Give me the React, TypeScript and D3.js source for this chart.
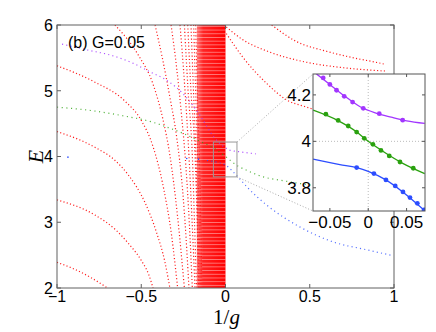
import * as d3 from 'd3';

type Pt = [number, number];

const xTicks = [-1, -0.5, 0, 0.5, 1];
const yTicks = [2, 3, 4, 5, 6];
const insetXTicks = [-0.05, 0, 0.05];
const insetYTicks = [3.8, 4, 4.2];

// red levels that come in from the left edge
const redFromLeft: Pt[][] = [
  [[-1, 2.39], [-0.9, 2.29], [-0.8, 2.16], [-0.7, 2.0]],
  [[-1, 3.34], [-0.775, 3.11], [-0.65, 2.88], [-0.577, 2.68], [-0.5, 2.42], [-0.455, 2.2], [-0.43, 2.0]],
  [[-1, 4.38], [-0.775, 4.14], [-0.66, 3.95], [-0.577, 3.72], [-0.478, 3.3], [-0.41, 2.85], [-0.36, 2.4], [-0.33, 2.0]],
  [[-1, 5.38], [-0.775, 5.13], [-0.6, 4.85], [-0.5, 4.55], [-0.43, 4.15], [-0.37, 3.55], [-0.32, 2.8], [-0.284, 2.0]],
];

// red levels that drop in from the top
const redFromTop: Pt[][] = [
  [[-0.656, 6], [-0.517, 5.54], [-0.43, 5.1], [-0.37, 4.55], [-0.33, 4.02], [-0.285, 3.1], [-0.244, 2.0]],
  [[-0.418, 6], [-0.375, 5.5], [-0.33, 4.9], [-0.29, 4.3], [-0.255, 3.5], [-0.235, 2.8], [-0.217, 2.0]],
  [[-0.323, 6], [-0.29, 5.35], [-0.26, 4.6], [-0.235, 3.85], [-0.215, 3.0], [-0.197, 2.0]],
  [[-0.27, 6], [-0.243, 5.1], [-0.217, 4.02], [-0.198, 3.0], [-0.181, 2.0]],
  [[-0.244, 6], [-0.222, 5.0], [-0.197, 4.02], [-0.184, 3.0], [-0.172, 2.0]],
  [[-0.224, 6], [-0.205, 5.0], [-0.181, 4.02], [-0.168, 3.0], [-0.16, 2.0]],
  [[-0.205, 6], [-0.19, 5.0], [-0.175, 4.0], [-0.155, 2.0]],
  [[-0.189, 6], [-0.175, 4.8], [-0.165, 4.0], [-0.148, 2.0]],
  [[-0.177, 6], [-0.165, 4.8], [-0.155, 4.0], [-0.14, 2.0]],
];

// red levels on the g > 0 side
const redRight: Pt[][] = [
  [[0.005, 5.97], [0.1, 5.78], [0.25, 5.6], [0.45, 5.45], [0.7, 5.35], [0.95, 5.3]],
  [[0.274, 6], [0.42, 5.75], [0.6, 5.6], [0.76, 5.5], [0.88, 5.44], [0.95, 5.4]],
  [[0.005, 5.87], [0.1, 5.52], [0.245, 5.11], [0.363, 4.86], [0.47, 4.76], [0.7, 4.6], [1, 4.5]],
];

// dense block of levels just left of 1/g = 0
const denseBand = [-0.17, 0];

const purpleMain: Pt[] = [
  [-0.97, 5.71], [-0.82, 5.62], [-0.68, 5.54], [-0.55, 5.42], [-0.45, 5.29], [-0.35, 5.16],
  [-0.25, 4.95], [-0.15, 4.62], [-0.07, 4.3], [0, 4.13], [0.02, 4.1], [0.09, 4.07], [0.18, 4.04],
];
const greenMain: Pt[] = [
  [-1, 4.75], [-0.8, 4.7], [-0.61, 4.62], [-0.43, 4.52], [-0.34, 4.44], [-0.25, 4.35], [-0.15, 4.23],
  [-0.07, 4.13], [0, 4.0], [0.07, 3.86], [0.126, 3.79], [0.224, 3.69], [0.323, 3.64], [0.44, 3.59],
  [0.6, 3.53], [0.8, 3.47], [1, 3.42],
];
// blue level: only a few isolated points left of -0.1, then a dotted run
const blueMainDots: Pt[] = [[-0.935, 3.99], [-0.23, 3.97], [-0.16, 3.96]];
const blueMain: Pt[] = [
  [-0.11, 3.94], [-0.07, 3.923], [0, 3.87], [0.07, 3.7], [0.13, 3.53],
  [0.19, 3.38], [0.25, 3.25], [0.44, 2.93], [0.64, 2.7], [0.84, 2.58], [0.98, 2.5],
];

// zoom window marked on the main axes
const zoomV = [-0.072, 0.068];
const zoomE = [3.69, 4.22];

// inset: fitted lines and computed points
const purpleInsetLine: Pt[] = [
  [-0.068, 4.292], [-0.05, 4.245], [-0.03, 4.193], [-0.01, 4.148], [0.01, 4.122], [0.03, 4.104], [0.05, 4.088], [0.0736, 4.077],
];
const purpleInsetDots: Pt[] = [
  [-0.0587, 4.273], [-0.05, 4.245], [-0.0413, 4.22], [-0.0313, 4.194], [-0.0204, 4.169],
  [-0.0065, 4.142], [0.0144, 4.119], [0.0449, 4.091],
];
const greenInsetLine: Pt[] = [
  [-0.0718, 4.134], [-0.04, 4.09], [-0.015, 4.04], [0, 4.0], [0.02, 3.955], [0.045, 3.905], [0.0736, 3.861],
];
const greenInsetDots: Pt[] = [
  [-0.0552, 4.117], [-0.0392, 4.09], [-0.0261, 4.066], [-0.0151, 4.04], [-0.0052, 4.013],
  [0.0061, 3.987], [0.0166, 3.961], [0.0274, 3.937], [0.0414, 3.911], [0.0587, 3.884],
];
const blueInsetLine: Pt[] = [
  [-0.0718, 3.923], [-0.037, 3.9], [-0.015, 3.887], [0, 3.871], [0.023, 3.834], [0.045, 3.782], [0.073, 3.703],
];
const blueInsetDots: Pt[] = [
  [-0.0151, 3.887], [0.0074, 3.861], [0.0231, 3.834], [0.0352, 3.808], [0.0453, 3.782],
  [0.0544, 3.758], [0.064, 3.733], [0.0727, 3.705],
];

const W = 436;
const H = 332;
const plot = { left: 57, right: 394, top: 25, bottom: 288 };
const box = { left: 313, right: 425, top: 74, bottom: 211 };

const x = d3.scaleLinear().domain([-1, 1]).range([plot.left, plot.right]);
const y = d3.scaleLinear().domain([2, 6]).range([plot.bottom, plot.top]);
const xi = d3.scaleLinear().domain([-0.072, 0.074]).range([box.left, box.right]);
const yi = d3.scaleLinear().domain([3.7, 4.29]).range([box.bottom, box.top]);

const mainLine = d3.line<Pt>().x(d => x(d[0])).y(d => y(d[1])).curve(d3.curveMonotoneX);
const insetLine = d3.line<Pt>().x(d => xi(d[0])).y(d => yi(d[1])).curve(d3.curveMonotoneX);

const fmt = (v: number) => (v < 0 ? '\u2212' + String(Math.abs(v)) : String(v));

const sans = 'Liberation Sans, Arial, Helvetica, sans-serif';
const serif = 'Liberation Serif, Times New Roman, serif';
const axisColor = '#606060';

const PURPLE = '#a236ff';
const GREEN = '#2aa10f';
const BLUE = '#2c4dff';

export default function App() {
  const redCurves = [...redFromLeft, ...redFromTop, ...redRight];
  return (
    <svg
      width={W}
      height={H}
      style={{ position: 'absolute', left: 0, top: 0, background: '#fff' }}
      fontFamily={sans}
    >
      <defs>
        <clipPath id="plotClip">
          <rect x={plot.left} y={plot.top} width={plot.right - plot.left} height={plot.bottom - plot.top} />
        </clipPath>
        <clipPath id="insetClip">
          <rect x={box.left} y={box.top} width={box.right - box.left} height={box.bottom - box.top} />
        </clipPath>
        <linearGradient id="bandGrad" x1="0" x2="1" y1="0" y2="0">
          <stop offset="0%" stopColor="#ff7070" />
          <stop offset="22%" stopColor="#ff2424" />
          <stop offset="100%" stopColor="#ff0000" />
        </linearGradient>
        <pattern id="stripes" width={6} height={3.7} patternUnits="userSpaceOnUse">
          <rect x={0} y={0} width={6} height={0.8} fill="#ffffff" opacity={0.5} />
        </pattern>
      </defs>

      <g clipPath="url(#plotClip)">
        <rect
          x={x(denseBand[0])}
          y={plot.top}
          width={x(denseBand[1]) - x(denseBand[0])}
          height={plot.bottom - plot.top}
          fill="url(#bandGrad)"
        />
        <rect
          x={x(denseBand[0])}
          y={plot.top}
          width={x(denseBand[1]) - x(denseBand[0])}
          height={plot.bottom - plot.top}
          fill="url(#stripes)"
        />
        {redCurves.map((c, i) => (
          <path key={i} d={mainLine(c) ?? ''} fill="none" stroke="#ff1a1a" strokeWidth={1.2} strokeDasharray="1.1 2.3" />
        ))}
        <path d={mainLine(purpleMain) ?? ''} fill="none" stroke={PURPLE} strokeWidth={1.2} strokeDasharray="1.1 3.2" opacity={0.85} />
        <path d={mainLine(greenMain) ?? ''} fill="none" stroke={GREEN} strokeWidth={1.2} strokeDasharray="1.1 3.6" opacity={0.8} />
        <path d={mainLine(blueMain) ?? ''} fill="none" stroke={BLUE} strokeWidth={1.2} strokeDasharray="1.1 3.2" opacity={0.8} />
        {blueMainDots.map((d, i) => (
          <circle key={'bd' + i} cx={x(d[0])} cy={y(d[1])} r={0.8} fill={BLUE} />
        ))}

        <rect
          x={x(zoomV[0])}
          y={y(zoomE[1])}
          width={x(zoomV[1]) - x(zoomV[0])}
          height={y(zoomE[0]) - y(zoomE[1])}
          fill="none"
          stroke="#999"
          strokeWidth={1}
        />
      </g>

      <line x1={x(zoomV[1])} y1={y(zoomE[1])} x2={box.left} y2={box.top} stroke="#aaa" strokeWidth={1} strokeDasharray="1 2" />
      <line x1={x(zoomV[1])} y1={y(zoomE[0])} x2={box.left} y2={box.bottom} stroke="#aaa" strokeWidth={1} strokeDasharray="1 2" />

      {/* main axes frame and ticks */}
      <rect x={plot.left} y={plot.top} width={plot.right - plot.left} height={plot.bottom - plot.top} fill="none" stroke={axisColor} strokeWidth={1} />
      {xTicks.map(t => (
        <g key={'xt' + t}>
          <line x1={x(t)} x2={x(t)} y1={plot.bottom} y2={plot.bottom - 4} stroke={axisColor} />
          <line x1={x(t)} x2={x(t)} y1={plot.top} y2={plot.top + 4} stroke={axisColor} />
          <text x={x(t)} y={plot.bottom + 14} textAnchor="middle" fontSize={16} fill="#000">
            {fmt(t)}
          </text>
        </g>
      ))}
      {yTicks.map(t => (
        <g key={'yt' + t}>
          <line x1={plot.left} x2={plot.left + 4} y1={y(t)} y2={y(t)} stroke={axisColor} />
          <line x1={plot.right} x2={plot.right - 4} y1={y(t)} y2={y(t)} stroke={axisColor} />
          <text x={plot.left - 4} y={y(t)} dy="0.36em" textAnchor="end" fontSize={16} fill="#000">
            {fmt(t)}
          </text>
        </g>
      ))}

      <text x={68} y={48} fontSize={16} fill="#000">(b) G=0.05</text>

      <text x={(plot.left + plot.right) / 2 + 1} y={324} textAnchor="middle" fontSize={21} fontFamily={serif} fill="#000">
        1/<tspan fontStyle="italic">g</tspan>
      </text>
      <text
        transform={`translate(43,${(plot.top + plot.bottom) / 2}) rotate(-90)`}
        textAnchor="middle"
        fontSize={22}
        fontFamily={serif}
        fontStyle="italic"
        fill="#000"
      >
        E
      </text>

      {/* inset */}
      <rect x={box.left} y={box.top} width={box.right - box.left} height={box.bottom - box.top} fill="#fff" />
      <g clipPath="url(#insetClip)">
        <line x1={xi(0)} x2={xi(0)} y1={box.top} y2={box.bottom} stroke="#bbb" strokeDasharray="1 2" />
        <line x1={box.left} x2={box.right} y1={yi(4)} y2={yi(4)} stroke="#bbb" strokeDasharray="1 2" />
        <path d={insetLine(purpleInsetLine) ?? ''} fill="none" stroke={PURPLE} strokeWidth={1.3} />
        <path d={insetLine(greenInsetLine) ?? ''} fill="none" stroke={GREEN} strokeWidth={1.3} />
        <path d={insetLine(blueInsetLine) ?? ''} fill="none" stroke={BLUE} strokeWidth={1.3} />
        {purpleInsetDots.map((d, i) => (
          <circle key={'p' + i} cx={xi(d[0])} cy={yi(d[1])} r={2.4} fill={PURPLE} />
        ))}
        {greenInsetDots.map((d, i) => (
          <circle key={'g' + i} cx={xi(d[0])} cy={yi(d[1])} r={2.4} fill={GREEN} />
        ))}
        {blueInsetDots.map((d, i) => (
          <circle key={'b' + i} cx={xi(d[0])} cy={yi(d[1])} r={2.4} fill={BLUE} />
        ))}
      </g>
      <rect x={box.left} y={box.top} width={box.right - box.left} height={box.bottom - box.top} fill="none" stroke="#555" strokeWidth={1} />
      {insetXTicks.map(t => (
        <g key={'ixt' + t}>
          <line x1={xi(t)} x2={xi(t)} y1={box.bottom} y2={box.bottom - 3} stroke="#555" />
          <line x1={xi(t)} x2={xi(t)} y1={box.top} y2={box.top + 3} stroke="#555" />
          <text x={xi(t)} y={box.bottom + 17} textAnchor="middle" fontSize={17} fill="#000">
            {fmt(t)}
          </text>
        </g>
      ))}
      {insetYTicks.map(t => (
        <g key={'iyt' + t}>
          <line x1={box.left} x2={box.left + 3} y1={yi(t)} y2={yi(t)} stroke="#555" />
          <line x1={box.right} x2={box.right - 3} y1={yi(t)} y2={yi(t)} stroke="#555" />
          <text x={box.left - 2} y={yi(t)} dy="0.36em" textAnchor="end" fontSize={17} fill="#000">
            {fmt(t)}
          </text>
        </g>
      ))}
    </svg>
  );
}
